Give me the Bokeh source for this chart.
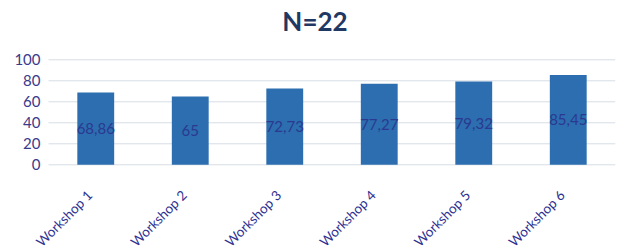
import math
from bokeh.plotting import figure
from bokeh.models import ColumnDataSource, Range1d, LabelSet, Label
from bokeh.core.properties import value
from bokeh.embed import file_html
from bokeh.resources import INLINE

categories = ["Workshop 1", "Workshop 2", "Workshop 3", "Workshop 4", "Workshop 5", "Workshop 6"]
values = [68.86, 65, 72.73, 77.27, 79.32, 85.45]
value_labels = ["68,86", "65", "72,73", "77,27", "79,32", "85,45"]
y_ticks = [0, 20, 40, 60, 80, 100]
title_text = "N=22"

FONT = "Lato"
W, H = 616, 248
PLOT_LEFT_PX = 48            # where the first category slot begins
SLOT_PX = 94.5               # width of one category slot
FRAME_TOP_PX = 59.3          # pixel position of value 100
PX_PER_UNIT = 1.05           # vertical pixels per value unit

x_start = -PLOT_LEFT_PX / SLOT_PX
x_end = len(categories) + 0.0
y_top = 100 + FRAME_TOP_PX / PX_PER_UNIT
y_bottom = 100 - (H - FRAME_TOP_PX) / PX_PER_UNIT
label_y = -28.0 / PX_PER_UNIT
title_y = 100 + (FRAME_TOP_PX - 20.5) / PX_PER_UNIT

centers = [i + 0.5 for i in range(len(categories))]
src = ColumnDataSource(dict(x=centers, cat=categories, val=values, half=[v / 2 for v in values],
                            lab=value_labels, below=[label_y] * len(categories)))
tick_src = ColumnDataSource(dict(x0=[0.0] * len(y_ticks), x1=[x_end] * len(y_ticks),
                                 y=y_ticks, t=[str(t) for t in y_ticks]))

p = figure(x_range=Range1d(x_start, x_end), y_range=Range1d(y_bottom, y_top), width=W, height=H,
           output_backend="svg", toolbar_location=None,
           x_axis_location=None, y_axis_location=None,
           min_border_left=0, min_border_right=1, min_border_top=0, min_border_bottom=0)

# horizontal grid lines at the value ticks, only across the plotting area
p.segment(x0="x0", x1="x1", y0="y", y1="y", source=tick_src, line_color="#D6DCE5", line_width=1)

p.vbar(x="x", top="val", bottom=0, width=0.39, source=src, fill_color="#2C6EAF", line_color=None)

labels = LabelSet(x="x", y="half", text="lab", source=src, text_align="center",
                  text_baseline="middle", text_font_size="15px", text_font=value(FONT),
                  text_color="#2B3990")
p.add_layout(labels)

xlabels = LabelSet(x="x", y="below", text="cat", source=src, angle=math.pi / 4,
                   x_offset=-6, text_align="right", text_baseline="middle",
                   text_font_size="13.5px", text_font=value(FONT), text_color="#2E3192")
p.add_layout(xlabels)

ylabels = LabelSet(x="x0", y="y", text="t", source=tick_src, x_offset=-8,
                   text_align="right", text_baseline="middle", text_font_size="15px",
                   text_font=value(FONT), text_color="#3A3A8C")
p.add_layout(ylabels)

title = Label(x=len(categories) / 2, y=title_y, x_offset=-17, text=title_text,
              text_align="center", text_baseline="middle", text_font_size="26px",
              text_font=FONT, text_font_style="bold", text_color="#1F3864")
p.add_layout(title)

p.xgrid.grid_line_color = None
p.ygrid.grid_line_color = None
p.outline_line_color = None

open("out.html", "w").write(file_html(p, INLINE))
